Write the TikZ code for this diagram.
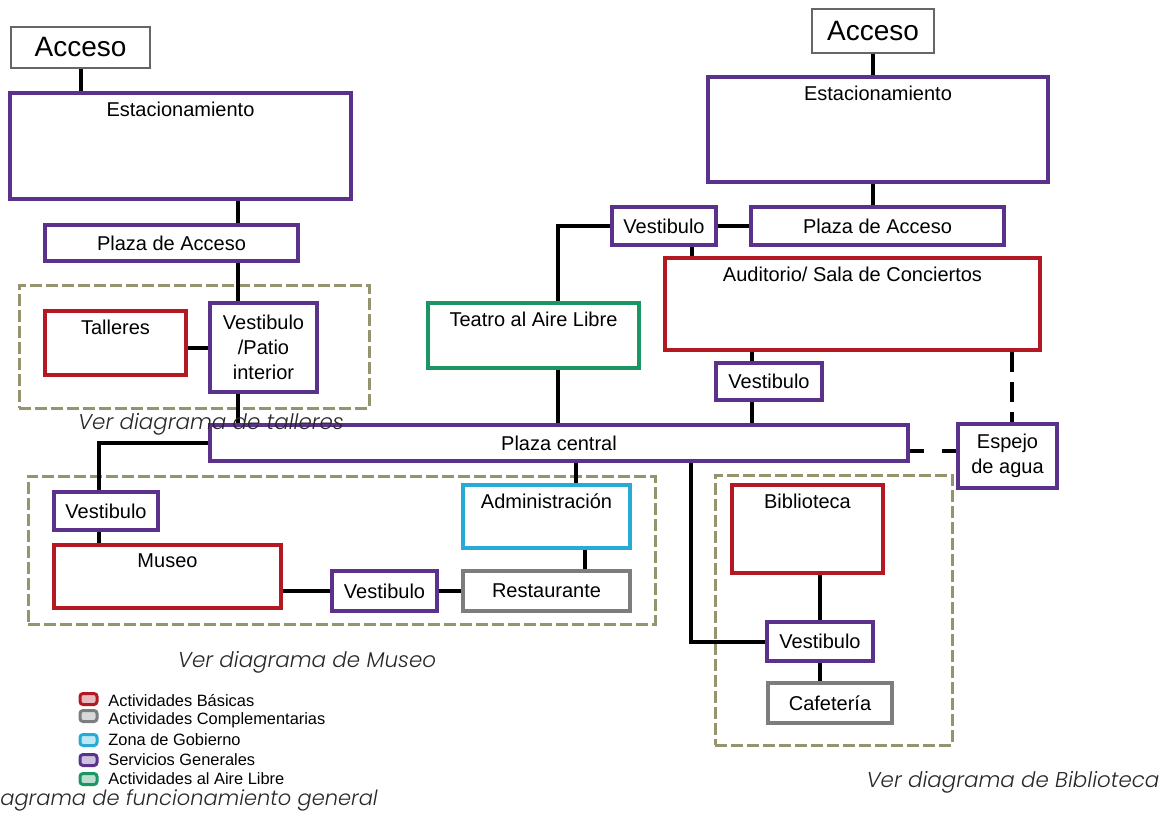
\documentclass[tikz,border=0pt]{standalone}
\usepackage{fontspec}
\setmainfont{Liberation Sans}
\newfontfamily\capfont{Poppins Light Italic}
\usetikzlibrary{calc}
\definecolor{pur}{RGB}{90,50,140}
\definecolor{rd}{RGB}{180,25,35}
\definecolor{grn}{RGB}{25,150,100}
\definecolor{cyn}{RGB}{40,170,215}
\definecolor{gry}{RGB}{125,125,125}
\definecolor{olv}{RGB}{150,148,110}
\definecolor{capc}{RGB}{40,40,40}
\newcommand\bx[7]{\node[#2, minimum width={(#5-#3)*0.5pt}, minimum height={(#6-#4)*0.5pt}] (#1) at ({(#3+#5)/2},{(#4+#6)/2}) {#7};}
\begin{document}
\begin{tikzpicture}[x=0.5pt,y=-0.5pt,
 base/.style={draw, fill=white, line width=1.8pt, inner sep=1pt, font=\fontsize{10}{12.5}\selectfont, align=center, text=black},
 pbox/.style={base, draw=pur},
 rbox/.style={base, draw=rd},
 gbox/.style={base, draw=grn},
 cbox/.style={base, draw=cyn},
 ybox/.style={base, draw=gry},
 abox/.style={base, draw=black!60, line width=0.7pt, font=\fontsize{14}{16}\selectfont},
 ttl/.style={label={[toplbl]north:#1}},
 toplbl/.style={anchor=center, yshift=-9pt, font=\fontsize{10}{12}\selectfont, inner sep=0pt},
 region/.style={draw=olv, line width=1.5pt, dash pattern=on 6pt off 2pt},
 conn/.style={line width=2pt},
 dconnv/.style={conn, dash pattern=on 10pt off 5pt},
 dconnh/.style={conn, dash pattern=on 7pt off 9pt},
 captxt/.style={font=\capfont\fontsize{10.7}{12}\selectfont, text=capc, inner sep=0pt},
 legicon/.style={draw=#1, fill=#1!30, line width=1.5pt, rounded corners=1.5pt, minimum width=8.5pt, minimum height=5.5pt, inner sep=0pt},
 legtxt/.style={font=\fontsize{8.2}{9}\selectfont, anchor=west, inner sep=0pt}
]
\useasboundingbox (0,0) rectangle (1168,819);
\fill[white] (0,0) rectangle (1168,819);

% regions
\bx{regT}{region}{19}{285}{369}{408}{}
\bx{regM}{region}{28}{476}{655}{624}{}
\bx{regB}{region}{715}{475}{952}{745}{}

% helper coordinates
\coordinate (xL) at (238,0);
\coordinate (xT) at (558,0);
\coordinate (xA) at (576,0);
\coordinate (xR) at (585,0);
\coordinate (xV) at (692,0);
\coordinate (xM) at (752,0);
\coordinate (xB) at (691,0);
\coordinate (xMu) at (99,0);
\coordinate (xE) at (1012,0);
\coordinate (yE) at (0,451);

% left block
\bx{accL}{abox}{11}{27}{150}{68}{Acceso}
\bx{estL}{pbox,ttl=Estacionamiento}{10}{93}{351}{199}{}
\bx{plazaL}{pbox}{45}{225}{298}{261}{Plaza de Acceso}
\bx{talleres}{rbox,ttl=Talleres}{45}{311}{186}{375}{}
\bx{vpL}{pbox}{210}{303}{317}{392}{Vestibulo\\/Patio\\interior}
\bx{plazaC}{pbox}{210}{425}{908}{461}{Plaza central}

% museo block
\bx{vestM}{pbox}{54}{492}{158}{530}{Vestibulo}
\bx{museo}{rbox,ttl=Museo}{54}{545}{281}{608}{}
\bx{vestM2}{pbox}{332}{571}{437}{611}{Vestibulo}
\bx{rest}{ybox}{463}{571}{630}{611}{Restaurante}
\bx{admin}{cbox,ttl=Administración}{463}{485}{630}{548}{}

% right block
\bx{accR}{abox}{812}{9}{934}{53}{Acceso}
\bx{estR}{pbox,ttl=Estacionamiento}{708}{77}{1048}{182}{}
\bx{vestR}{pbox}{612}{207}{716}{245}{Vestibulo}
\bx{plazaR}{pbox}{751}{207}{1004}{245}{Plaza de Acceso}
\bx{teatro}{gbox,ttl=Teatro al Aire Libre}{428}{303}{639}{368}{}
\bx{aud}{rbox,ttl=Auditorio/ Sala de Conciertos}{665}{258}{1040}{350}{}
\bx{vestMid}{pbox}{716}{363}{822}{400}{Vestibulo}
\bx{espejo}{pbox}{958}{424}{1057}{488}{Espejo\\de agua}
\bx{bib}{rbox,ttl=Biblioteca}{732}{485}{883}{573}{}
\bx{vestB}{pbox}{767}{622}{873}{661}{Vestibulo}
\bx{caf}{ybox}{768}{683}{892}{723}{Cafetería}

% connectors
\draw[conn] (accL.south) -- (accL.south |- estL.north);
\draw[conn] (xL |- estL.south) -- (xL |- plazaL.north);
\draw[conn] (xL |- plazaL.south) -- (xL |- vpL.north);
\draw[conn] (xL |- vpL.south) -- (xL |- plazaC.north);
\draw[conn] (vpL.west) -- (vpL.west -| talleres.east);
\draw[conn] (plazaC.west) -| (xMu |- vestM.north);
\draw[conn] (xMu |- vestM.south) -- (xMu |- museo.north);
\draw[conn] (museo.east |- vestM2.west) -- (vestM2.west);
\draw[conn] (vestM2.east) -- (rest.west);
\draw[conn] (xA |- plazaC.south) -- (xA |- admin.north);
\draw[conn] (xR |- admin.south) -- (xR |- rest.north);
\draw[conn] (accR.south) -- (accR.south |- estR.north);
\draw[conn] (accR.south |- estR.south) -- (accR.south |- plazaR.north);
\draw[conn] (vestR.east) -- (plazaR.west);
\draw[conn] (vestR.west) -| (xT |- teatro.north);
\draw[conn] (xT |- teatro.south) -- (xT |- plazaC.north);
\draw[conn] (xV |- vestR.south) -- (xV |- aud.north);
\draw[conn] (xM |- aud.south) -- (xM |- vestMid.north);
\draw[conn] (xM |- vestMid.south) -- (xM |- plazaC.north);
\draw[dconnv] (xE |- aud.south) -- (xE |- espejo.north);
\draw[dconnh] (plazaC.east |- yE) -- (espejo.west |- yE);
\draw[conn] (xB |- plazaC.south) |- (vestB.west);
\draw[conn] (vestB.north |- bib.south) -- (vestB.north);
\draw[conn] (vestB.south) -- (vestB.south |- caf.north);

% captions
\node[captxt] (capT) at (211,424) {Ver diagrama de talleres};
\node[captxt] (capM) at (307,662) {Ver diagrama de Museo};
\node[captxt] (capB) at (1013,782) {Ver diagrama de Biblioteca};
\node[captxt, font=\capfont\fontsize{10.5}{12}\selectfont, anchor=west] (capG) at (0,800) {agrama de funcionamiento general};

% legend
\node[legicon=rd] (lg1) at (88.5,699) {};
\node[legicon=gry] (lg2) at (88.5,716) {};
\node[legicon=cyn] (lg3) at (88.5,740) {};
\node[legicon=pur] (lg4) at (88.5,760) {};
\node[legicon=grn] (lg5) at (88.5,779) {};
\node[legtxt] (lt1) at (108,701) {Actividades Básicas};
\node[legtxt] (lt2) at (108,720) {Actividades Complementarias};
\node[legtxt] (lt3) at (108,740) {Zona de Gobierno};
\node[legtxt] (lt4) at (108,760) {Servicios Generales};
\node[legtxt] (lt5) at (108,779) {Actividades al Aire Libre};
\end{tikzpicture}
\end{document}
